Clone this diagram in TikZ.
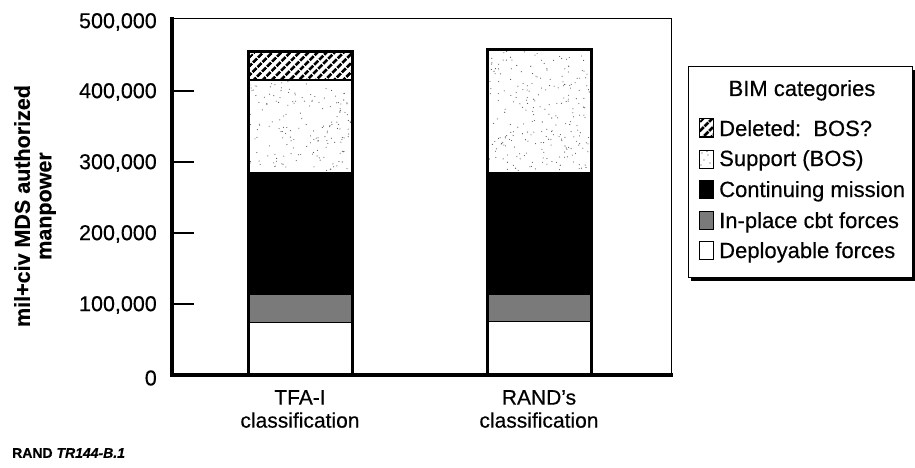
\documentclass[tikz,border=0pt]{standalone}
\usepackage{fontspec}
\setmainfont{Liberation Sans}[FakeBold=0.4]
\usetikzlibrary{patterns,patterns.meta}

\tikzset{
  ticklabel/.style={anchor=east, inner sep=0pt, font=\fontsize{21.5}{23}\selectfont},
  catlabel/.style={align=center, inner sep=0pt, font=\fontsize{21}{23}\selectfont},
  legtext/.style={anchor=base west, inner sep=0pt, font=\fontsize{22}{24}\selectfont},
  barframe/.style={line width=3pt},
  hatchfill/.style={pattern={Lines[angle=45,distance=6.4pt,line width=3pt]}, pattern color=black},
  dithfill/.style={fill=black!52},
  swatch/.style={draw, line width=1pt},
}

% sparse stipple inside a rectangle: x0, y0, width, height, count
\newcommand{\stipple}[5]{%
  \foreach \k in {1,...,#5}{%
    \pgfmathsetmacro{\sx}{#1+1.5+(#3-3)*rnd}%
    \pgfmathsetmacro{\sy}{#2+1.5+(#4-3)*rnd}%
    \fill[black!70] (\sx,\sy) circle (0.55pt);
  }%
}

\begin{document}
\begin{tikzpicture}[x=1pt,y=-1pt]
\useasboundingbox (0,0) rectangle (915,468);
\pgfmathsetseed{4711}

% ---- bars: TFA-I classification ----
\fill[white] (248,322) rectangle (352,375);
\fill[dithfill] (248,295) rectangle (352,322);
\fill[black] (248,172) rectangle (352,295);
\fill[white] (248,80) rectangle (352,172);
\stipple{248}{80}{104}{92}{170}
\fill[white] (248,52) rectangle (352,80);
\fill[hatchfill] (248,52) rectangle (352,80);
\draw[line width=1.2pt] (248,80) -- (352,80);
\draw[line width=1pt] (248,322) -- (352,322);
\draw[barframe] (248,52) rectangle (352,375);

% ---- bars: RAND's classification ----
\fill[white] (487,321) rectangle (591,375);
\fill[dithfill] (487,295) rectangle (591,321);
\fill[black] (487,172) rectangle (591,295);
\fill[white] (487,50) rectangle (591,172);
\stipple{487}{50}{104}{122}{240}
\draw[line width=1pt] (487,321) -- (591,321);
\draw[barframe] (487,50) rectangle (591,375);

% ---- plot frame and ticks ----
\draw[line width=1pt] (172,19) -- (671,19) -- (671,375);
\draw[line width=3.5pt, line cap=rect] (172,19) -- (172,375) -- (671,375);
\foreach \v in {1,...,4}
  \draw[line width=1.3pt] (172,{375-71*\v}) -- (194,{375-71*\v});

% ---- y tick labels ----
\node[ticklabel] (y0) at (157,378) {0};
\node[ticklabel] (y1) at (157,305) {100,000};
\node[ticklabel] (y2) at (157,234) {200,000};
\node[ticklabel] (y3) at (157,163) {300,000};
\node[ticklabel] (y4) at (157,92) {400,000};
\node[ticklabel] (y5) at (157,22) {500,000};

% ---- axis title ----
\node[rotate=90, align=center, inner sep=0pt,
      font=\bfseries\fontsize{21.5}{21.5}\selectfont] (ytitle) at (35,206)
  {mil+civ MDS authorized\\manpower};

% ---- category labels ----
\node[catlabel] (tfalab) at (300,409) {TFA-I\\classification};
\node[catlabel] (randlab) at (539,409) {RAND's\\classification};

% ---- legend ----
\fill[black] (691,70) rectangle (915,281);
\draw[fill=white, line width=1pt] (688,67) rectangle (912,277);
\node[anchor=base, inner sep=0pt, font=\fontsize{22}{24}\selectfont] (legtitle) at (802,96) {BIM categories};

\fill[white] (699,119) rectangle (713,137);
\fill[hatchfill] (699,119) rectangle (713,137);
\draw[swatch] (699,119) rectangle (713,137);
\node[legtext] (legdel) at (719,136) {Deleted:\ \ BOS?};

\fill[white] (699,150) rectangle (713,168);
\fill[black!70] (702,153) circle (0.55pt) (708,155) circle (0.55pt) (704,160) circle (0.55pt)
  (710,163) circle (0.55pt) (701,165) circle (0.55pt) (707,151.5) circle (0.55pt);
\draw[swatch] (699,150) rectangle (713,168);
\node[legtext] (legsup) at (719,166) {Support (BOS)};

\fill[black] (699,180) rectangle (713,198);
\draw[swatch] (699,180) rectangle (713,198);
\node[legtext] (legcon) at (719,197) {Continuing mission};

\fill[dithfill] (699,211) rectangle (713,229);
\draw[swatch] (699,211) rectangle (713,229);
\node[legtext] (legin) at (719,228) {In-place cbt forces};

\fill[white] (699,241) rectangle (713,259);
\draw[swatch] (699,241) rectangle (713,259);
\node[legtext] (legdep) at (719,258) {Deployable forces};

% ---- source line ----
\node[anchor=west, inner sep=0pt, font=\bfseries\fontsize{14}{16}\selectfont] (credit) at (12,453)
  {RAND \textit{TR144-B.1}};
\end{tikzpicture}
\end{document}
